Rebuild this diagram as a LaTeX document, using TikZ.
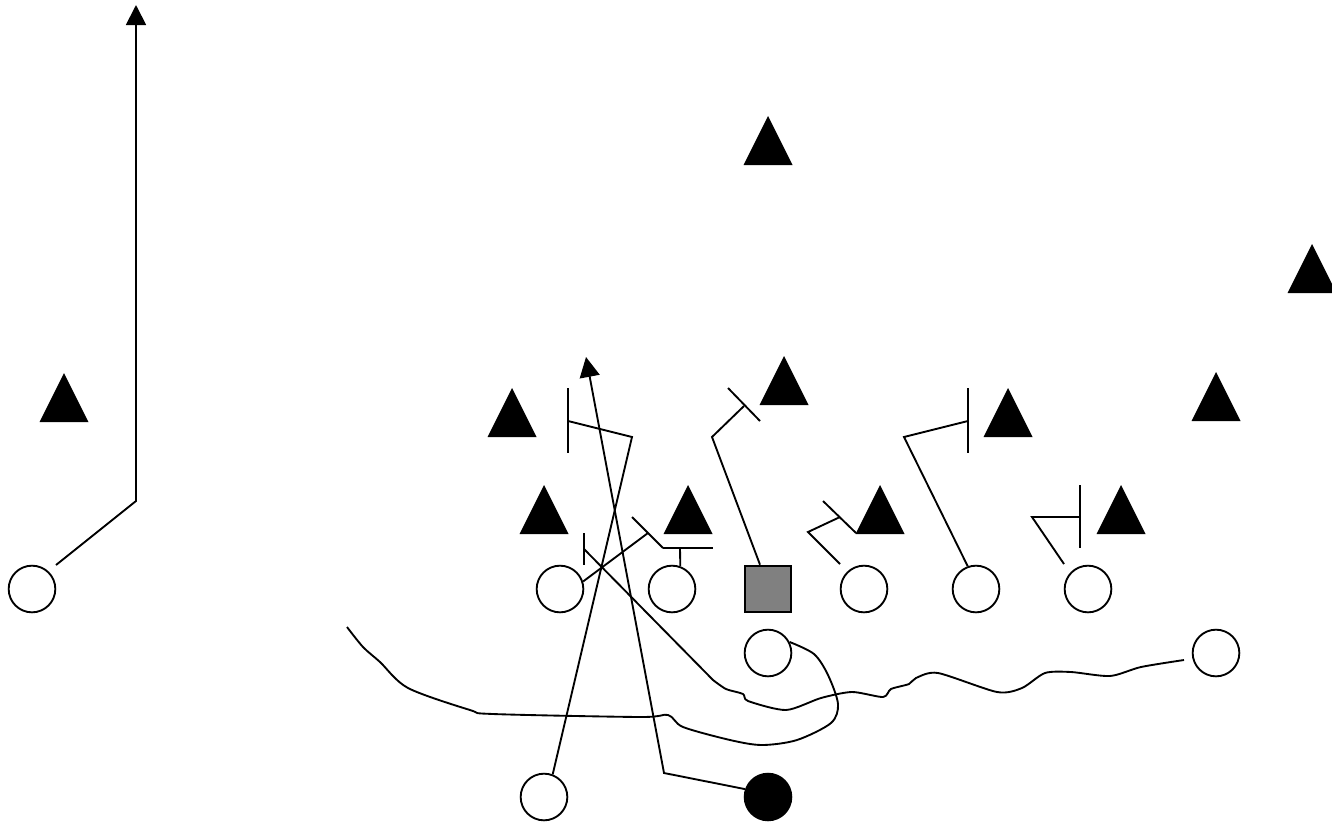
\documentclass[tikz,border=0pt]{standalone}
\usetikzlibrary{arrows.meta,calc}
\begin{document}
\begin{tikzpicture}[x=0.75pt,y=-0.75pt,
  route/.style={line width=1.4pt, line join=miter},
  blockbar/.style={line width=1.4pt},
  runarrow/.style={line width=1.4pt, -{Triangle[length=15pt,width=15pt]}},
  player/.style={circle,draw,line width=1.4pt,minimum size=35pt,inner sep=0pt},
  ballcarrier/.style={circle,draw,fill=black,line width=1.4pt,minimum size=35pt,inner sep=0pt},
  centerbox/.style={rectangle,draw,fill=gray,line width=1.4pt,minimum size=35pt,inner sep=0pt},
  defender/.pic={\fill (0,0) -- (-24.5,49) -- (24.5,49) -- cycle;}]
\useasboundingbox (0,0) rectangle (1332,825);

% defenders
\foreach \px/\py in {768/116, 1312/244, 64/373, 1216/372, 512/388, 1008/388, 784/356, 544/485, 688/485, 880/485, 1121/485}
  \pic at (\px,\py) {defender};

% offense
\node[player] (lt) at (32,589) {};
\node[player] (g1) at (560,589) {};
\node[player] (g2) at (672,589) {};
\node[centerbox] (c) at (768,589) {};
\node[player] (g3) at (864,589) {};
\node[player] (t1) at (976,589) {};
\node[player] (t2) at (1088,589) {};
\node[player] (rb) at (768,653) {};
\node[player] (rb2) at (1216,653) {};
\node[player] (bk) at (544,797) {};
\node[ballcarrier] (ball) at (768,797) {};

% start points
\coordinate (lts) at ($(lt)+(24,-24)$);
\coordinate (cs) at ($(c.north)+(-8,0)$);
\coordinate (g3s) at ($(g3)+(-24,-25)$);
\coordinate (t2s) at ($(t2)+(-24,-25)$);
\coordinate (rb2s) at ($(rb2)+(-32,7)$);

% end points
\coordinate (lte) at (136,5);
\coordinate (balle) at (586,357);

% outside receiver
\draw[runarrow] (lts) -- (136,501) -- (lte);

% guard 1
\draw[route] (g1.18) -- (648,533);
\draw[blockbar] (632,517) -- (663,548);
% guard 2
\draw[route] (g2.70) -- (680,548);
\draw[blockbar] (663,548) -- (713,548);
% center
\draw[route] (cs) -- (712,437) -- (744,406);
\draw[blockbar] (728,388) -- (760,421);
% guard 3
\draw[route] (g3s) -- (808,532) -- (840,517);
\draw[blockbar] (823,501) -- (856,533);
% tackle 1
\draw[route] (t1.110) -- (904,437) -- (968,421);
\draw[blockbar] (968,388) -- (968,453);
% tackle 2
\draw[route] (t2s) -- (1032,517) -- (1080,517);
\draw[blockbar] (1080,485) -- (1080,548);
% back
\draw[route] (bk.69) -- (632,437) -- (568,421);
\draw[blockbar] (568,388) -- (568,453);
% ball carrier
\draw[runarrow] (ball.161) -- (664,773) -- (balle);

% wing back wavy route
\draw[route, line join=round] plot[smooth, tension=0.45] coordinates {(rb2s) (1141,667) (1110,676) (1071,672) (1045,673) (1022,688) (997,692) (938,673) (916,678) (909,684) (891,689) (883,697) (852,692) (821,698) (786,710) (748,701) (743,694) (726,689) (713,680)} -- (584,549);
\draw[blockbar] (584,533) -- (584,565);

% running back curve
\draw[route, line join=round] plot[smooth, tension=0.5] coordinates {(rb.27) (814,654) (828,675) (838,704) (831,723) (797,740) (762,745) (730,740) (683,727) (668,715) (640,717) (493,714) (470,710) (408,688) (380,662) (363,647) (347,627)};
\end{tikzpicture}
\end{document}
